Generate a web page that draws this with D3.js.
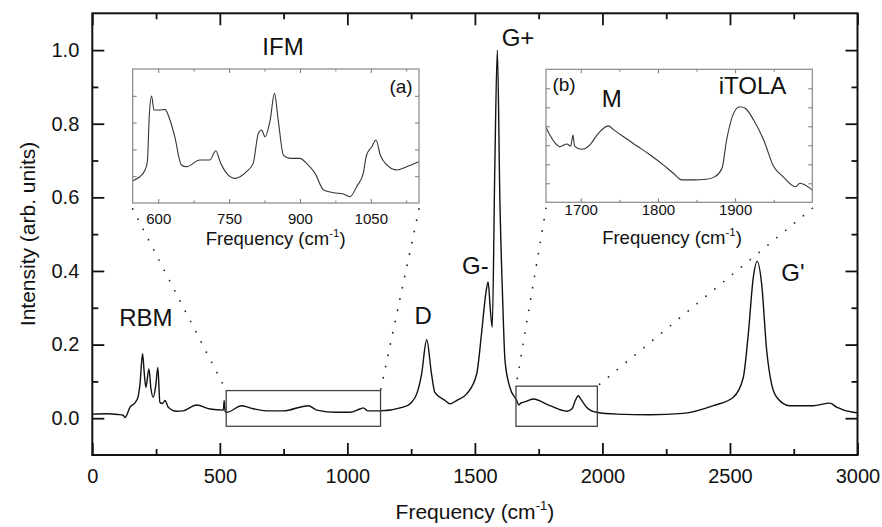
<!DOCTYPE html>
<html>
<head>
<meta charset="utf-8">
<script src="https://cdn.jsdelivr.net/npm/d3@7"></script>
<style>
  body { margin: 0; background: #fff; }
  svg { display: block; }
  text { font-family: "Liberation Sans", Arial, sans-serif; fill: #111; }
</style>
</head>
<body>
<script>
// ---- data ----
// full Raman spectrum
var freq = [0, 60, 100, 121, 128, 148, 170, 180, 187, 197, 204, 210, 222, 230, 239, 249, 257, 265, 275, 285,
            298, 331, 356, 409, 461, 514, 517, 521, 527, 586, 618, 684, 749, 847, 880, 958, 1010, 1049, 1062, 1080,
            1128, 1219, 1250, 1272, 1291, 1311, 1330, 1343, 1383, 1402, 1428, 1468, 1507, 1526, 1543, 1552, 1560, 1568, 1578, 1588,
            1598, 1609, 1618, 1637, 1664, 1672, 1682, 1689, 1729, 1794, 1860, 1880, 1895, 1905, 1915, 1938, 1977, 2056, 2186, 2316,
            2435, 2513, 2552, 2572, 2591, 2607, 2624, 2644, 2663, 2683, 2735, 2826, 2892, 2918, 2983, 3000];
var intensity = [0.011, 0.012, 0.010, 0.008, 0.002, 0.030, 0.044, 0.060, 0.093, 0.175, 0.120, 0.084, 0.134, 0.080, 0.057, 0.090, 0.138, 0.043, 0.040, 0.048,
            0.030, 0.019, 0.020, 0.036, 0.025, 0.022, 0.048, 0.018, 0.016, 0.034, 0.028, 0.020, 0.020, 0.034, 0.022, 0.016, 0.016, 0.025, 0.028, 0.020,
            0.020, 0.030, 0.042, 0.066, 0.120, 0.213, 0.120, 0.070, 0.048, 0.039, 0.048, 0.066, 0.120, 0.230, 0.340, 0.370, 0.300, 0.247, 0.680, 1.000,
            0.590, 0.320, 0.157, 0.084, 0.048, 0.036, 0.042, 0.043, 0.052, 0.034, 0.019, 0.025, 0.050, 0.061, 0.052, 0.030, 0.016, 0.011, 0.0095, 0.013,
            0.034, 0.057, 0.110, 0.230, 0.380, 0.426, 0.366, 0.184, 0.093, 0.057, 0.034, 0.034, 0.041, 0.030, 0.016, 0.015];

// inset (a) IFM region
var ifmFreq = [546, 561, 572, 577, 581, 586, 591, 603, 614, 625, 635, 649, 660, 688, 709, 722, 731, 745, 762, 787,
               801, 812, 819, 826, 837, 846, 854, 865, 879, 900, 914, 932, 950, 971, 992, 1006, 1020, 1034, 1041, 1052,
               1061, 1070, 1084, 1105, 1126, 1152];
var ifmInt = [0.166, 0.196, 0.246, 0.308, 0.644, 0.799, 0.694, 0.694, 0.699, 0.619, 0.495, 0.284, 0.271, 0.321, 0.321, 0.390, 0.308, 0.221, 0.184, 0.234,
              0.296, 0.520, 0.545, 0.495, 0.619, 0.818, 0.619, 0.358, 0.333, 0.333, 0.296, 0.221, 0.097, 0.077, 0.067, 0.047, 0.122, 0.221, 0.358, 0.420,
              0.470, 0.358, 0.284, 0.246, 0.271, 0.308];

// inset (b) M / iTOLA region
var itolaFreq = [1655, 1660, 1667, 1673, 1682, 1687, 1690, 1692, 1701, 1712, 1721, 1736, 1742, 1755, 1773, 1790, 1807, 1820, 1831, 1846,
                 1863, 1874, 1883, 1889, 1898, 1906, 1913, 1924, 1937, 1950, 1962, 1978, 1984, 2000];
var itolaInt = [0.395, 0.354, 0.311, 0.293, 0.307, 0.296, 0.354, 0.296, 0.279, 0.302, 0.354, 0.402, 0.384, 0.346, 0.296, 0.249, 0.197, 0.153, 0.118, 0.118,
                0.121, 0.135, 0.179, 0.328, 0.468, 0.503, 0.495, 0.433, 0.328, 0.188, 0.135, 0.082, 0.100, 0.064];

// ticks
var xTicks = [0, 500, 1000, 1500, 2000, 2500, 3000];
var xMinor = [250, 750, 1250, 1750, 2250, 2750];
var yTicks = [0.0, 0.2, 0.4, 0.6, 0.8, 1.0];
var yMinor = [0.1, 0.3, 0.5, 0.7, 0.9];
var aTicks = [600, 750, 900, 1050];
var aMinor = [675, 825, 975, 1125];
var aYTicks = [0.2, 0.4, 0.6, 0.8];
var bTicks = [1700, 1800, 1900];
var bMinor = [1750, 1850, 1950];
var bYTicks = [0.1, 0.2, 0.3, 0.4, 0.5, 0.6];

// zoomed windows marked on the main spectrum
var boxA = {f0: 525, f1: 1130, i0: -0.022, i1: 0.075};
var boxB = {f0: 1661, f1: 1980, i0: -0.022, i1: 0.087};

// peak labels
var peaks = [
  {name: "RBM", f: 210, v: 0.250},
  {name: "D", f: 1297, v: 0.255},
  {name: "G-", f: 1502, v: 0.392},
  {name: "G+", f: 1669, v: 1.012},
  {name: "G'", f: 2747, v: 0.373}
];

// ---- layout ----
var W = 882, H = 527;
var svg = d3.select("body").append("svg").attr("width", W).attr("height", H);

var x = d3.scaleLinear().domain([0, 3000]).range([92.3, 857.5]);
var y = d3.scaleLinear().domain([-0.1, 1.1]).range([455, 13.3]);

var xa = d3.scaleLinear().domain([546, 1152]).range([132.7, 419]);
var ya = d3.scaleLinear().domain([0, 1]).range([203, 69]);

var xb = d3.scaleLinear().domain([1655, 2000]).range([546, 812.3]);
var yb = d3.scaleLinear().domain([0, 0.7]).range([202.3, 69.3]);

var FONT = '"Liberation Sans", Arial, sans-serif';

// draw inward ticks on all four sides, labels bottom + left only
function frameAxes(xs, ys, o) {
  var bot = ys.range()[0], top = ys.range()[1];
  var lft = xs.range()[0], rgt = xs.range()[1];
  var g = svg.append("g");

  function style(sel, size) {
    sel.attr("font-family", FONT).attr("font-size", size);
    sel.select(".domain").remove();
    sel.selectAll(".tick line").attr("stroke", o.tickColor).attr("stroke-width", o.tickWidth);
    sel.selectAll(".tick text").attr("fill", "#111");
  }

  g.append("g").attr("transform", "translate(0," + bot + ")")
    .call(d3.axisBottom(xs).tickValues(o.xt).tickSize(-o.major).tickPadding(o.xpad).tickFormat(d3.format("d")))
    .call(style, o.font);
  g.append("g").attr("transform", "translate(0," + bot + ")")
    .call(d3.axisBottom(xs).tickValues(o.xm).tickSize(-o.minor).tickFormat(""))
    .call(style, o.font);
  g.append("g").attr("transform", "translate(0," + top + ")")
    .call(d3.axisTop(xs).tickValues(o.xt).tickSize(-o.major).tickFormat(""))
    .call(style, o.font);
  g.append("g").attr("transform", "translate(0," + top + ")")
    .call(d3.axisTop(xs).tickValues(o.xm).tickSize(-o.minor).tickFormat(""))
    .call(style, o.font);

  var lf = o.yLabels ? d3.format(".1f") : "";
  g.append("g").attr("transform", "translate(" + lft + ",0)")
    .call(d3.axisLeft(ys).tickValues(o.yt).tickSize(-o.major).tickPadding(o.ypad).tickFormat(lf))
    .call(style, o.font);
  g.append("g").attr("transform", "translate(" + rgt + ",0)")
    .call(d3.axisRight(ys).tickValues(o.yt).tickSize(-o.major).tickFormat(""))
    .call(style, o.font);
  if (o.ym) {
    g.append("g").attr("transform", "translate(" + lft + ",0)")
      .call(d3.axisLeft(ys).tickValues(o.ym).tickSize(-o.minor).tickFormat(""))
      .call(style, o.font);
    g.append("g").attr("transform", "translate(" + rgt + ",0)")
      .call(d3.axisRight(ys).tickValues(o.ym).tickSize(-o.minor).tickFormat(""))
      .call(style, o.font);
  }

  g.append("rect")
    .attr("x", lft).attr("y", top)
    .attr("width", rgt - lft).attr("height", bot - top)
    .attr("fill", "none").attr("stroke", o.frameColor).attr("stroke-width", o.frameWidth);
  return g;
}

// frequency title with superscript -1
function freqTitle(cx, by, size) {
  var t = svg.append("text").attr("x", cx).attr("y", by)
    .attr("text-anchor", "middle").attr("font-size", size);
  t.append("tspan").text("Frequency (cm");
  t.append("tspan").attr("dy", -size * 0.42).attr("font-size", size * 0.62).text("-1");
  t.append("tspan").attr("dy", size * 0.42).text(")");
}

// ---- main plot ----
var line = d3.line().x(function(d) { return x(d[0]); }).y(function(d) { return y(d[1]); }).curve(d3.curveMonotoneX);
svg.append("path")
  .datum(d3.zip(freq, intensity))
  .attr("d", line)
  .attr("fill", "none").attr("stroke", "#111").attr("stroke-width", 1.4);

frameAxes(x, y, {xt: xTicks, xm: xMinor, yt: yTicks, ym: yMinor, major: 12, minor: 6,
                 xpad: 14, ypad: 13, font: 20, yLabels: true,
                 tickColor: "#111", tickWidth: 1.8, frameColor: "#111", frameWidth: 2});

freqTitle(x(1500), 519, 21);
svg.append("text")
  .attr("transform", "translate(35,234) rotate(-90)")
  .attr("text-anchor", "middle").attr("font-size", 21)
  .text("Intensity (arb. units)");

// zoom windows on the main spectrum
[boxA, boxB].forEach(function(b) {
  svg.append("rect")
    .attr("x", x(b.f0)).attr("y", y(b.i1))
    .attr("width", x(b.f1) - x(b.f0)).attr("height", y(b.i0) - y(b.i1))
    .attr("fill", "none").attr("stroke", "#444").attr("stroke-width", 1.3);
});

// dotted connectors: inset bottom corners -> box top corners
var links = [
  [xa.range()[0], ya.range()[0], x(boxA.f0), y(boxA.i1)],
  [xa.range()[1], ya.range()[0], x(boxA.f1), y(boxA.i1)],
  [xb.range()[0], yb.range()[0], x(boxB.f0), y(boxB.i1)],
  [xb.range()[1], yb.range()[0], x(boxB.f1), y(boxB.i1)]
];
svg.selectAll(".link").data(links).enter().append("line")
  .attr("x1", function(d) { return d[0]; }).attr("y1", function(d) { return d[1] + 6; })
  .attr("x2", function(d) { return d[2]; }).attr("y2", function(d) { return d[3]; })
  .attr("stroke", "#222").attr("stroke-width", 1.8)
  .attr("stroke-linecap", "round").attr("stroke-dasharray", "0 11.5");

// peak labels
svg.selectAll(".peak").data(peaks).enter().append("text")
  .attr("x", function(d) { return x(d.f); })
  .attr("y", function(d) { return y(d.v); })
  .attr("text-anchor", "middle").attr("font-size", 24)
  .text(function(d) { return d.name; });

// ---- inset (a) ----
svg.append("rect").attr("x", 132.7).attr("y", 69).attr("width", 419 - 132.7).attr("height", 134).attr("fill", "#fff");
var lineA = d3.line().x(function(d) { return xa(d[0]); }).y(function(d) { return ya(d[1]); }).curve(d3.curveMonotoneX);
svg.append("path")
  .datum(d3.zip(ifmFreq, ifmInt))
  .attr("d", lineA)
  .attr("fill", "none").attr("stroke", "#333").attr("stroke-width", 1.1);
frameAxes(xa, ya, {xt: aTicks, xm: aMinor, yt: aYTicks, major: 4, minor: 2.5,
                   xpad: 10, ypad: 3, font: 15, yLabels: false,
                   tickColor: "#777", tickWidth: 1, frameColor: "#888", frameWidth: 1.2});
freqTitle(275.7, 245, 18.5);
svg.append("text").attr("x", 283).attr("y", 55.3).attr("text-anchor", "middle").attr("font-size", 24).text("IFM");
svg.append("text").attr("x", 401).attr("y", 93).attr("text-anchor", "middle").attr("font-size", 19).text("(a)");

// ---- inset (b) ----
var lineB = d3.line().x(function(d) { return xb(d[0]); }).y(function(d) { return yb(d[1]); }).curve(d3.curveMonotoneX);
svg.append("path")
  .datum(d3.zip(itolaFreq, itolaInt))
  .attr("d", lineB)
  .attr("fill", "none").attr("stroke", "#333").attr("stroke-width", 1.1);
frameAxes(xb, yb, {xt: bTicks, xm: bMinor, yt: bYTicks, major: 4, minor: 2.5,
                   xpad: 2, ypad: 3, font: 15, yLabels: false,
                   tickColor: "#777", tickWidth: 1, frameColor: "#888", frameWidth: 1.2});
freqTitle(672, 244, 18.5);
svg.append("text").attr("x", 611.7).attr("y", 106.6).attr("text-anchor", "middle").attr("font-size", 24).text("M");
svg.append("text").attr("x", 752.5).attr("y", 93.6).attr("text-anchor", "middle").attr("font-size", 24).text("iTOLA");
svg.append("text").attr("x", 564).attr("y", 91).attr("text-anchor", "middle").attr("font-size", 19).text("(b)");
</script>
</body>
</html>
